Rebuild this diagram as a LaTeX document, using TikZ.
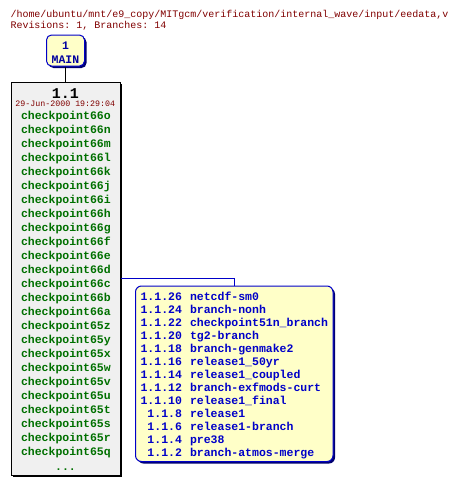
\documentclass[tikz,border=0pt]{standalone}
\usepackage{fontspec}
\setmonofont{Liberation Mono}
\usepackage{xcolor}
\usetikzlibrary{shadows}

\definecolor{headred}{HTML}{800000}
\definecolor{taggreen}{HTML}{007000}
\definecolor{branchblue}{HTML}{0000C8}
\definecolor{mainblue}{HTML}{0000A0}
\definecolor{shadeblue}{HTML}{000070}
\definecolor{boxyellow}{HTML}{FFFFC8}
\definecolor{revgrey}{HTML}{F0F0F0}

\begin{document}
\begin{tikzpicture}[
    x = 1pt, y = -1pt, % pixel grid, y runs downwards
    line width = 1pt, % box borders
    font = \ttfamily
]
\tikzstyle{header}=[
    anchor = base west,
    inner sep = 0pt,
    text = headred,
    font = \ttfamily\fontsize{10}{12}\selectfont
]
\tikzstyle{tag}=[
    anchor = base,
    inner sep = 0pt,
    text = taggreen,
    font = \ttfamily\bfseries\fontsize{11.5}{13}\selectfont
]
\tikzstyle{brnum}=[
    anchor = base east,
    inner sep = 0pt,
    text = branchblue,
    font = \ttfamily\bfseries\fontsize{11.5}{13}\selectfont
]
\tikzstyle{brname}=[
    brnum,
    anchor = base west
]
\tikzstyle{box shadow}=[
    drop shadow = {shadow xshift = 2pt, shadow yshift = -2pt, fill = black, opacity = 1}
]
\tikzstyle{blue shadow}=[
    drop shadow = {shadow xshift = 2pt, shadow yshift = -2pt, fill = shadeblue, opacity = 1}
]

\useasboundingbox (0,0) rectangle (458,485);

% file header
\node[header] (path) at (10,17) {/home/ubuntu/mnt/e9\_copy/MITgcm/verification/internal\_wave/input/eedata,v};
\node[header] (info) at (10,28.5) {Revisions: 1, Branches: 14};

% trunk
\node[draw = branchblue, fill = boxyellow, rounded corners = 5pt, blue shadow,
      minimum width = 38pt, minimum height = 31pt, inner sep = 0pt] (main) at (65.5,50.5) {};
\node[anchor = base, inner sep = 0pt, text = mainblue,
      font = \ttfamily\bfseries\fontsize{11.5}{13}\selectfont] (mainnum) at (65.5,49) {1};
\node[anchor = base, inner sep = 0pt, text = mainblue,
      font = \ttfamily\bfseries\fontsize{11.5}{13}\selectfont] (mainname) at (65.5,63.3) {MAIN};

% revision 1.1
\node[draw = black, fill = revgrey, box shadow,
      minimum width = 109pt, minimum height = 393pt, inner sep = 0pt] (rev) at (65.5,278.5) {};
\node[anchor = base, inner sep = 0pt,
      font = \ttfamily\bfseries\fontsize{15}{17}\selectfont] (revnum) at (65.5,98.3) {1.1};
\node[anchor = base, inner sep = 0pt, text = headred,
      font = \ttfamily\fontsize{8.3}{10}\selectfont] (revdate) at (65.3,106.7) {29-Jun-2000 19:29:04};

\foreach \t [count=\i from 0] in {66o,66n,66m,66l,66k,66j,66i,66h,66g,66f,66e,66d,66c,66b,66a,65z,65y,65x,65w,65v,65u,65t,65s,65r,65q}
    \node[tag] (tag\i) at (65.9,119.5+14*\i) {checkpoint\t};
\node[tag] (more) at (65.5,470) {...};

\draw[line width = 0.8pt] (main.south) -- (rev.north);

% branches
\node[draw = branchblue, fill = boxyellow, rounded corners = 6pt, blue shadow,
      minimum width = 197.5pt, minimum height = 175.5pt, inner sep = 0pt] (brbox) at (234.25,373.75) {};

\foreach \n/\b [count=\i from 0] in {1.1.26/netcdf-sm0, 1.1.24/branch-nonh, 1.1.22/checkpoint51n\_branch,
        1.1.20/tg2-branch, 1.1.18/branch-genmake2, 1.1.16/release1\_50yr, 1.1.14/release1\_coupled,
        1.1.12/branch-exfmods-curt, 1.1.10/release1\_final, 1.1.8/release1, 1.1.6/release1-branch,
        1.1.4/pre38, 1.1.2/branch-atmos-merge} {
    \node[brnum] (brnum\i) at (182.5,300.7+13*\i) {\n};
    \node[brname] (brname\i) at (189.5,300.7+13*\i) {\b};
}

\coordinate (brjoin) at (234.25,278);
\draw[branchblue, line width = 0.8pt] (rev.east |- brjoin) -- (brjoin) -- (brbox.north);

\end{tikzpicture}
\end{document}
